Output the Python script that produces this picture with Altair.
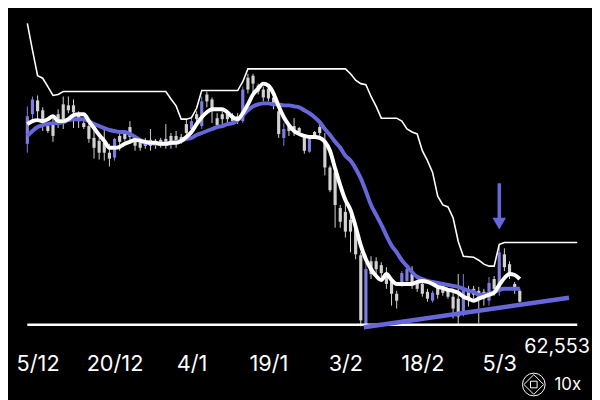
import altair as alt
import pandas as pd

# ------------------------------------------------------------------ data
START_DATE = "2024-12-03"   # first daily candle
REF_DATE = "2024-12-05"     # day 0 of the x axis

# daily candles, price in thousands
opens = [80.9, 83.9, 85.3, 84.3, 82.7, 83.1, 83.9, 84.9, 84.8, 84.8,
         83.9, 83.0, 82.7, 81.5, 81.2, 81.0, 80.0, 79.5, 81.7, 81.9,
         82.6, 81.3, 81.0, 81.2, 81.3, 81.2, 81.3, 81.4, 81.7, 81.7,
         81.6, 82.9, 82.4, 83.9, 82.7, 85.9, 85.4, 83.5, 83.9, 84.0,
         83.8, 83.7, 83.2, 87.6, 87.8, 86.8, 86.4, 86.5, 85.6, 84.2,
         81.5, 82.8, 82.7, 82.5, 81.6, 80.1, 82.1, 82.6, 81.2, 78.5,
         78.0, 74.4, 74.0, 73.2, 72.4, 69.6, 62.6, 69.0, 69.0, 68.6,
         67.8, 66.9, 65.7, 66.9, 67.0, 67.7, 66.8, 66.7, 65.9, 65.0,
         66.3, 66.3, 66.0, 65.4, 65.2, 63.6, 66.2, 66.2, 66.0, 65.9,
         65.0, 67.2, 65.9, 69.7, 68.7, 66.7, 66.0]
closes = [83.7, 85.4, 84.2, 83.2, 82.2, 81.7, 83.1, 83.4, 84.3, 84.1,
          83.2, 82.6, 81.4, 80.5, 80.0, 80.0, 79.4, 81.4, 81.1, 81.4,
          81.6, 80.7, 80.5, 80.7, 80.7, 80.8, 80.8, 80.8, 80.8, 80.9,
          81.1, 82.0, 83.2, 83.4, 85.2, 85.2, 84.2, 82.8, 83.4, 83.4,
          83.2, 83.2, 86.4, 86.4, 87.0, 86.2, 85.6, 85.5, 84.8, 81.9,
          82.4, 82.2, 82.3, 82.1, 80.2, 81.4, 81.7, 82.0, 78.5, 76.2,
          74.7, 73.0, 72.0, 72.0, 69.7, 63.0, 68.2, 67.7, 68.2, 67.8,
          66.7, 65.7, 65.0, 67.8, 68.2, 66.7, 66.2, 65.7, 65.2, 65.8,
          65.6, 65.8, 65.4, 64.2, 63.4, 66.3, 65.2, 65.6, 65.4, 65.2,
          66.8, 66.2, 69.9, 68.4, 67.7, 66.2, 64.9]
highs = [84.7, 85.7, 85.8, 84.6, 82.9, 83.8, 84.4, 85.7, 85.7, 85.4,
         84.2, 83.3, 83.2, 82.3, 81.5, 82.4, 80.9, 81.5, 82.0, 82.1,
         83.2, 81.6, 81.3, 81.5, 82.4, 81.4, 81.5, 82.9, 82.0, 82.2,
         81.9, 83.4, 83.7, 84.2, 85.7, 86.2, 85.6, 84.0, 84.2, 84.2,
         84.0, 84.0, 86.7, 88.0, 88.0, 87.0, 86.7, 86.8, 85.9, 84.7,
         83.0, 83.0, 83.5, 82.6, 81.7, 81.5, 82.2, 83.0, 82.0, 78.7,
         78.5, 74.7, 74.9, 73.7, 73.0, 69.9, 69.7, 69.5, 69.4, 68.9,
         68.4, 67.4, 66.0, 68.0, 68.4, 68.5, 66.9, 67.0, 66.2, 66.0,
         66.5, 66.5, 66.2, 66.2, 67.7, 67.7, 66.5, 66.5, 66.4, 66.2,
         67.4, 67.5, 70.4, 70.3, 69.0, 66.9, 66.2]
lows = [80.0, 83.2, 83.2, 82.2, 82.0, 81.1, 82.5, 82.4, 84.0, 82.5,
        82.5, 82.4, 81.0, 79.4, 79.3, 79.2, 78.6, 79.2, 80.2, 81.2,
        81.0, 80.2, 80.2, 80.4, 80.2, 80.4, 80.5, 80.4, 80.4, 80.5,
        80.9, 81.6, 82.1, 83.1, 82.4, 84.6, 83.0, 82.5, 82.5, 83.0,
        82.8, 82.9, 83.0, 86.0, 85.9, 85.9, 85.2, 85.2, 84.4, 81.5,
        80.7, 81.7, 81.7, 81.9, 79.9, 80.0, 81.5, 81.7, 77.7, 76.0,
        72.4, 72.4, 71.4, 69.9, 69.2, 62.4, 62.4, 67.2, 67.5, 67.4,
        66.2, 64.5, 64.2, 66.4, 66.8, 66.2, 65.9, 65.4, 64.9, 64.8,
        65.2, 65.5, 65.2, 63.2, 62.5, 63.4, 64.4, 65.2, 62.7, 64.5,
        64.5, 65.5, 65.5, 68.0, 67.2, 65.7, 64.8]

# fast (white) and slow (blue) moving averages, one value per candle
white_ma = [82.9, 83.2, 83.3, 83.2, 83.4, 83.7, 83.2, 83.2, 83.4, 83.8,
            83.9, 83.9, 83.2, 82.5, 81.8, 81.2, 80.5, 80.5, 80.6, 80.9,
            81.1, 81.3, 81.2, 81.1, 81.0, 81.0, 80.9, 80.9, 81.0, 81.0,
            81.2, 81.6, 82.1, 82.9, 83.6, 84.1, 84.4, 84.4, 84.4, 84.1,
            83.6, 83.4, 84.0, 84.9, 85.9, 86.5, 87.0, 86.8, 86.0, 84.7,
            83.6, 82.8, 82.2, 81.9, 81.7, 81.6, 81.6, 81.5, 81.1, 80.2,
            78.4, 76.7, 75.2, 74.2, 72.5, 70.6, 69.2, 68.2, 67.5, 67.1,
            67.7, 67.1, 66.7, 66.7, 66.7, 66.7, 66.9, 67.0, 66.9, 66.7,
            66.4, 66.3, 66.1, 66.0, 65.8, 65.4, 65.2, 65.0, 65.2, 65.4,
            65.6, 65.8, 66.6, 67.3, 67.7, 67.6, 67.2]
blue_ma = [81.7, 82.2, 82.6, 82.8, 82.9, 83.0, 83.0, 83.1, 83.3, 83.4,
           83.4, 83.4, 83.2, 82.9, 82.7, 82.5, 82.3, 82.2, 82.1, 82.1,
           81.9, 81.6, 81.3, 81.0, 81.0, 80.9, 80.9, 80.9, 81.0, 81.1,
           81.2, 81.4, 81.5, 81.8, 82.0, 82.2, 82.4, 82.6, 82.7, 82.9,
           83.0, 83.3, 83.8, 84.3, 84.7, 84.9, 85.0, 85.0, 84.9, 84.9,
           84.8, 84.8, 84.7, 84.6, 84.3, 84.0, 83.6, 83.1, 82.4, 81.8,
           81.1, 80.5, 79.7, 79.2, 78.4, 77.4, 76.1, 74.7, 73.7, 72.7,
           71.6, 70.6, 69.9, 69.1, 68.5, 67.9, 67.4, 67.2, 67.0, 66.9,
           66.8, 66.7, 66.6, 66.5, 66.4, 66.2, 66.0, 65.9, 65.6, 65.6,
           65.7, 65.9, 66.1, 66.2, 66.2, 66.2, 66.2]

# thin upper channel line (vertices, in days from REF_DATE)
step_days = [-2, -1, 0, 1, 2, 3, 4, 5, 25, 26, 27, 28, 29, 30, 31, 32, 39, 40, 41,
             60, 61, 62, 63, 64, 65, 66, 67, 70, 71, 72, 73, 74, 75, 76, 77, 78,
             79, 80, 81, 82, 83, 85, 86, 87, 88, 89, 90, 91, 105.2]
step_vals = [93.1, 90.4, 87.8, 87.55, 86.7, 85.8, 85.9, 86.2, 86.2, 85.45, 84.75,
             83.4, 83.4, 83.55, 84.5, 86.3, 86.3, 87.2, 88.5, 88.5, 88.0, 87.35,
             87.0, 86.9, 85.7, 84.7, 83.5, 83.5, 83.2, 82.4, 82.1, 81.9, 80.2,
             79.2, 78.0, 75.6, 74.7, 74.5, 73.4, 71.0, 69.5, 69.4, 69.1, 68.7,
             68.5, 68.5, 70.7, 70.9, 70.9]

floor_value = 62.553
floor_days = [-2, 105.2]
trend_days = [63.6, 103.6]
trend_vals = [62.3, 65.3]
arrow_day = 90
arrow_top = 76.9
arrow_head = 72.8

tick_days = [0, 15, 30, 45, 60, 75, 90]
tick_labels = ["5/12", "20/12", "4/1", "19/1", "3/2", "18/2", "5/3"]
price_label = "62,553"
brand_label = "10x"

# ------------------------------------------------------------------ frames
dates = pd.date_range(START_DATE, periods=len(opens), freq="D")
days = [(d - pd.Timestamp(REF_DATE)).days for d in dates]

candles = pd.DataFrame({"day": days, "open": opens, "high": highs,
                        "low": lows, "close": closes})
candles["dir"] = ["up" if c >= o else "down" for o, c in zip(opens, closes)]
ma = pd.DataFrame({"day": days, "white": white_ma, "blue": blue_ma})
step = pd.DataFrame({"day": step_days, "value": step_vals})
floor = pd.DataFrame({"day": floor_days, "value": [floor_value] * len(floor_days)})
trend = pd.DataFrame({"day": trend_days, "value": trend_vals})
arrow = pd.DataFrame({"day": [arrow_day], "top": [arrow_top], "head": [arrow_head]})
one = pd.DataFrame({"price": [price_label], "brand": [brand_label]})

# ------------------------------------------------------------------ style
FONT = "Inter"
BLUE = "#6767dc"
BLUE_CANDLE = "#7d7de2"
GREY_CANDLE = "#d2d2d2"

xscale = alt.Scale(domain=[-5.769, 108.077], nice=False, zero=False)
yscale = alt.Scale(domain=[61.2, 94.4], nice=False, zero=False)

arr = "[" + ",".join(str(d) for d in tick_days) + "]"
labs = "[" + ",".join("'" + t + "'" for t in tick_labels) + "]"
xaxis = alt.Axis(values=tick_days, labelExpr=labs + "[indexof(" + arr + ", datum.value)]",
                 labelFontSize=22, labelColor="white", labelFont=FONT,
                 domain=False, ticks=False, grid=False, labelPadding=16,
                 labelOverlap=False, labelFlush=False, labelBound=False)


def X(field):
    return alt.X(field, type="quantitative", scale=xscale, axis=xaxis, title=None)


def Y(field):
    return alt.Y(field, type="quantitative", scale=yscale, axis=None)


ccol = alt.Color("dir:N", scale=alt.Scale(domain=["up", "down"],
                                          range=[BLUE_CANDLE, GREY_CANDLE]), legend=None)

wicks = alt.Chart(candles).mark_rule(strokeWidth=1).encode(
    x=X("day"), y=Y("low"), y2="high", color=ccol)
bodies = alt.Chart(candles).mark_rule(strokeWidth=3.2).encode(
    x=X("day"), y=Y("open"), y2="close", color=ccol)

blue_line = alt.Chart(ma).mark_line(color=BLUE, strokeWidth=4, interpolate="monotone").encode(
    x=X("day"), y=Y("blue"))
white_line = alt.Chart(ma).mark_line(color="white", strokeWidth=4, interpolate="monotone").encode(
    x=X("day"), y=Y("white"))
step_line = alt.Chart(step).mark_line(color="white", strokeWidth=1.6).encode(
    x=X("day"), y=Y("value"))
floor_line = alt.Chart(floor).mark_line(color="white", strokeWidth=2.5).encode(
    x=X("day"), y=Y("value"))
trend_line = alt.Chart(trend).mark_line(color=BLUE, strokeWidth=4.5).encode(
    x=X("day"), y=Y("value"))
arrow_shaft = alt.Chart(arrow).mark_rule(color=BLUE, strokeWidth=3.5).encode(
    x=X("day"), y=Y("top"), y2="head")
arrow_tip = alt.Chart(arrow).mark_point(shape="triangle-down", filled=True, size=190,
                                        color=BLUE, opacity=1).encode(
    x=X("day"), y=Y("head"))

price_text = alt.Chart(one).mark_text(align="right", baseline="alphabetic", fontSize=20,
                                      font=FONT, color="white").encode(
    x=alt.value(590), y=alt.value(347), text="price:N")
brand_text = alt.Chart(one).mark_text(align="left", baseline="alphabetic", fontSize=17,
                                      font=FONT, color="white").encode(
    x=alt.value(554), y=alt.value(385), text="brand:N")
logo_ring = alt.Chart(one).mark_point(shape="circle", size=529, filled=False, color="white",
                                      strokeWidth=1, opacity=1).encode(
    x=alt.value(533), y=alt.value(379))
logo_diamond = alt.Chart(one).mark_point(shape="diamond", size=400, filled=False, color="white",
                                         strokeWidth=1, opacity=1).encode(
    x=alt.value(533), y=alt.value(379))
logo_square = alt.Chart(one).mark_point(shape="square", size=45, filled=False, color="white",
                                        strokeWidth=1, opacity=1).encode(
    x=alt.value(533), y=alt.value(379))

chart = alt.layer(
    wicks, bodies, blue_line, white_line, step_line, floor_line, trend_line,
    arrow_shaft, arrow_tip, price_text, brand_text, logo_ring, logo_diamond, logo_square
).properties(
    width=592, height=332, background="black",
    padding={"left": 0, "top": 0, "right": 0, "bottom": 60},
    autosize=alt.AutoSizeParams(type="none"),
).configure_view(strokeWidth=0)

chart.save("out.html", embed_options={"renderer": "svg", "actions": False})
